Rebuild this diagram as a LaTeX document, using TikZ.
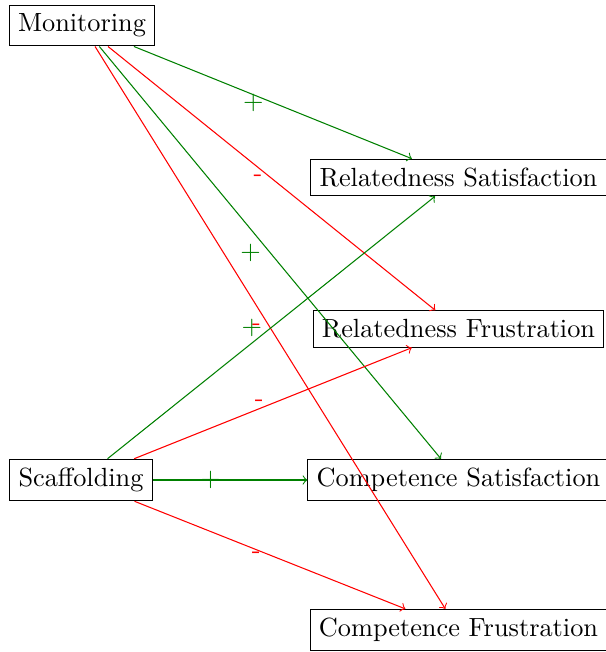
\documentclass[tikz,border=0pt]{standalone}
\begin{document}
\begin{tikzpicture}[x=0.3802pt, y=-0.3802pt,
  var/.style={draw, rectangle, inner sep=3.33pt},
  posedge/.style={->, draw=green!50!black},
  negedge/.style={->, draw=red},
  plus/.style={left, text=green!50!black, inner sep=3.33pt},
  minus/.style={left, text=red, inner sep=3.33pt}]
  \useasboundingbox (0,0) rectangle (606,652);
  % predictors
  \node[var] (mon) at (82,25.5) {Monitoring};
  \node[var] (scaf) at (81,480) {Scaffolding};
  % outcomes, in one column
  \node[var] (rs) at (458.5,177.5) {Relatedness Satisfaction};
  \node[var] (rf) at (458.5,329) {Relatedness Frustration};
  \node[var] (cs) at (458.5,480) {Competence Satisfaction};
  \node[var] (cf) at (458.5,630) {Competence Frustration};
  % paths from Monitoring
  \draw[posedge] (mon) -- node[plus] {+} (rs);
  \draw[negedge] (mon) -- node[minus] {-} (rf);
  \draw[posedge] (mon) -- node[plus] {+} (cs);
  \draw[negedge] (mon) -- node[minus] {-} (cf);
  % paths from Scaffolding
  \draw[posedge] (scaf) -- node[plus] {+} (rs);
  \draw[negedge] (scaf) -- node[minus] {-} (rf);
  \draw[posedge] (scaf) -- node[plus] {+} (cs);
  \draw[negedge] (scaf) -- node[minus] {-} (cf);
\end{tikzpicture}
\end{document}
